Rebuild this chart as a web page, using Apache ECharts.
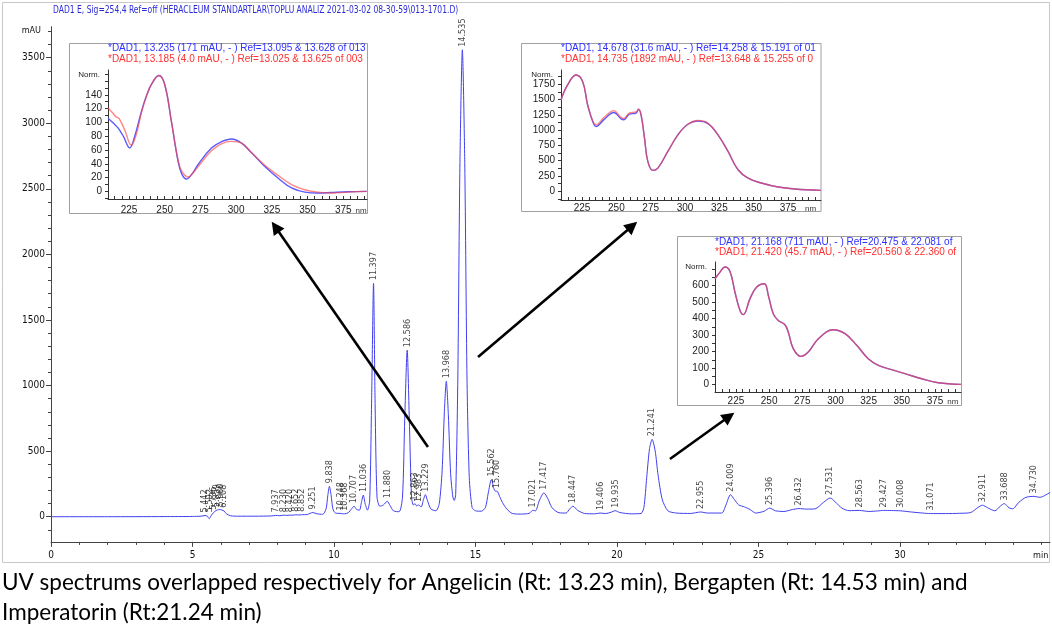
<!DOCTYPE html>
<html><head><meta charset="utf-8">
<script src="https://cdn.jsdelivr.net/npm/echarts@6/dist/echarts.min.js"></script>
<style>html,body{margin:0;padding:0;background:#fff}#c{width:1052px;height:630px}</style>
</head><body><div id="c"></div>
<script>
// ---------- main chromatogram (retention time in min, signal in mAU) ----------
const chromatogram = [
[0,0],[2,0],[4,1],[5,2],[5.3,4],[5.442,9],[5.52,5],[5.592,-15],[5.65,5],[5.736,30],[5.8,42],[5.859,50],[5.92,54],[5.98,55],[6.04,50],[6.108,45],[6.2,22],[6.35,7],[6.6,4],[7.2,4],[7.8,6],[7.937,10],[8.08,8],[8.23,12],[8.33,10],[8.42,12],[8.55,12],[8.652,15],[8.75,13],[8.852,15],[9.05,17],[9.251,32],[9.4,22],[9.6,18],[9.72,60],[9.78,160],[9.838,232],[9.9,160],[9.96,60],[10.05,28],[10.248,25],[10.31,22],[10.368,22],[10.5,30],[10.62,60],[10.707,80],[10.8,55],[10.9,50],[10.97,110],[11.036,165],[11.1,100],[11.18,50],[11.26,120],[11.33,900],[11.397,1780],[11.45,900],[11.52,150],[11.62,80],[11.75,90],[11.88,118],[11.98,85],[12.1,45],[12.3,38],[12.42,150],[12.5,750],[12.586,1270],[12.66,750],[12.74,150],[12.8,90],[12.863,100],[12.92,82],[12.983,90],[13.08,75],[13.16,130],[13.229,168],[13.3,125],[13.42,60],[13.6,45],[13.72,100],[13.82,350],[13.9,800],[13.968,1033],[14.04,780],[14.12,330],[14.2,150],[14.25,124],[14.3,170],[14.375,1050],[14.45,2700],[14.535,3560],[14.62,2700],[14.7,1050],[14.78,300],[14.88,70],[15.0,45],[15.2,42],[15.35,70],[15.45,180],[15.562,283],[15.65,215],[15.7,195],[15.76,195],[15.85,155],[15.95,110],[16.1,60],[16.3,25],[16.6,20],[16.9,26],[17.021,48],[17.12,45],[17.25,120],[17.417,182],[17.55,140],[17.7,70],[17.95,30],[18.2,28],[18.33,60],[18.447,80],[18.6,50],[18.85,25],[19.2,22],[19.406,28],[19.6,24],[19.8,35],[19.935,46],[20.1,32],[20.5,22],[20.85,25],[20.95,70],[21.05,300],[21.15,520],[21.241,590],[21.35,500],[21.45,320],[21.6,130],[21.8,45],[22.1,28],[22.6,25],[22.955,36],[23.2,28],[23.7,28],[23.85,90],[24.009,168],[24.15,130],[24.3,90],[24.5,75],[24.7,55],[24.9,28],[25.2,42],[25.396,66],[25.6,45],[25.9,40],[26.2,55],[26.432,62],[26.7,58],[27.0,60],[27.3,110],[27.531,143],[27.7,115],[27.95,65],[28.2,46],[28.563,48],[28.9,40],[29.2,44],[29.427,48],[29.7,47],[30.008,45],[30.4,36],[30.8,28],[31.071,24],[31.6,24],[32.1,26],[32.5,32],[32.75,70],[32.911,88],[33.1,68],[33.35,45],[33.55,82],[33.688,100],[33.85,68],[33.98,60],[34.2,110],[34.45,148],[34.73,155],[34.95,148],[35.1,160],[35.3,185]
];

// ---------- peak retention-time labels and apex heights ----------
const peakLabels = ["5.442","5.592","5.736","5.859","5.980","6.108","7.937","8.230","8.420","8.652","8.852","9.251","9.838","10.248","10.368","10.707","11.036","11.397","11.880","12.586","12.863","12.983","13.229","13.968","14.535","15.562","15.760","17.021","17.417","18.447","19.406","19.935","21.241","22.955","24.009","25.396","26.432","27.531","28.563","29.427","30.008","31.071","32.911","33.688","34.730"];
const peakHeights = [9,12,30,50,55,45,10,12,12,15,15,32,232,25,22,80,165,1780,118,1270,100,90,168,1033,3560,283,195,48,182,80,28,46,590,36,168,66,62,143,48,48,45,24,88,100,155];

// ---------- axis ticks ----------
const mainXLabels = [0,5,10,15,20,25,30];
const mainXTicks = [0,1,2,3,4,5,6,7,8,9,10,11,12,13,14,15,16,17,18,19,20,21,22,23,24,25,26,27,28,29,30,31,32,33,34,35];
const mainYLabels = [0,500,1000,1500,2000,2500,3000,3500];
const mainYTicks = [-100,0,100,200,300,400,500,600,700,800,900,1000,1100,1200,1300,1400,1500,1600,1700,1800,1900,2000,2100,2200,2300,2400,2500,2600,2700,2800,2900,3000,3100,3200,3300,3400,3500,3600,3700];
const nmLabels = [225,250,275,300,325,350,375];
const nmTicks = [215,220,225,230,235,240,245,250,255,260,265,270,275,280,285,290,295,300,305,310,315,320,325,330,335,340,345,350,355,360,365,370,375,380,385,390,395];
const inset1YLabels = [0,20,40,60,80,100,120,140];
const inset1YTicks = [-10,0,10,20,30,40,50,60,70,80,90,100,110,120,130,140,150,160,170];
const inset2YLabels = [0,250,500,750,1000,1250,1500,1750];
const inset2YTicks = [-125,0,125,250,375,500,625,750,875,1000,1125,1250,1375,1500,1625,1750,1875];
const inset3YLabels = [0,100,200,300,400,500,600];
const inset3YTicks = [0,50,100,150,200,250,300,350,400,450,500,550,600,650,700];

// ---------- UV spectra (nm, normalised absorbance) ----------
const angelicinBlue = [[210.3,106],[214,99],[217.3,92],[221,80],[225.5,63],[229,80],[233.7,116],[237.5,140],[240.7,155],[245.8,168],[250,155],[254.7,101],[259.4,43],[262,25],[265.2,18],[269,25],[273.4,39],[282.7,63],[289.7,72],[296.8,76],[303.8,70],[310.8,56],[320.1,36],[329.5,19],[338.8,5],[348.1,-1],[357.5,-2.4],[366.8,-1.5],[378.5,-0.5],[391.4,0]];
const angelicinRed = [[210.3,121],[213,115],[216,108],[218,106],[222,89],[226.6,67],[230,82],[233.7,114],[237.5,140],[240.7,155],[245.8,168],[250,155],[254.7,101],[259.4,45],[262,29],[266.4,21],[270,27],[273.4,36],[282.7,59],[289.7,69],[296.8,72.5],[303.8,70],[310.8,56],[320.1,38],[329.5,23],[338.8,10],[348.1,2.4],[357.5,-1],[366.8,-2.4],[378.5,-1],[391.4,0]];
const bergaptenBlue = [[209.7,1494],[214.5,1739],[220.6,1902],[225.5,1793],[229.1,1412],[232.8,1140],[235.2,1060],[241.3,1180],[248.1,1290],[253.5,1185],[255.4,1170],[259.5,1262],[264.4,1280],[266.1,1340],[268,1250],[270.5,869],[272.9,489],[276.6,342],[280.2,380],[287.5,652],[294.8,924],[302.1,1097],[309.4,1150],[316.7,1108],[324,924],[331.3,652],[338.6,353],[345.9,217],[355.6,136],[367.8,70],[379.9,38],[398.9,16]];
const bergaptenRed = [[209.7,1494],[214.5,1739],[220.6,1902],[225.5,1793],[229.1,1412],[232.8,1150],[235.2,1090],[241.3,1215],[248.1,1320],[253.5,1205],[255.4,1190],[259.5,1282],[264.4,1300],[266.1,1345],[268,1250],[270.5,869],[272.9,489],[276.6,342],[280.2,380],[287.5,652],[294.8,924],[302.1,1097],[309.4,1157],[316.7,1114],[324,924],[331.3,652],[338.6,353],[345.9,217],[355.6,136],[367.8,70],[379.9,38],[398.9,16]];
const imperatorinBlue = [[209.2,640],[213,680],[216.7,711],[220.5,684],[224.2,560],[228,449],[230.5,423],[235.6,520],[240.6,590],[246.4,610],[249.4,539],[253.1,429],[256.9,388],[261.9,362],[264.4,318],[268.2,218],[274,171],[279.5,197],[287.1,278],[298.4,332],[307.2,308],[316,238],[324.7,157],[332.3,117],[342.3,91],[352.4,67],[365,36],[377.5,12],[394.6,2]];
const imperatorinRed = [[209.2,640],[213,680],[216.7,711],[220.5,684],[224.2,560],[228,449],[230.5,423],[235.6,520],[240.6,590],[246.4,610],[249.4,539],[253.1,429],[256.9,388],[261.9,362],[264.4,318],[268.2,218],[274,171],[279.5,197],[287.1,278],[298.4,332],[307.2,308],[316,238],[324.7,157],[332.3,117],[342.3,91],[352.4,67],[365,36],[377.5,12],[394.6,2]];

// ---------- inset header texts ----------
const inset1Header = ["*DAD1, 13.235 (171 mAU, - ) Ref=13.095 & 13.628 of 013-1701.D", "*DAD1, 13.185 (4.0 mAU, - ) Ref=13.025 & 13.625 of 003-1701.D"];
const inset2Header = ["*DAD1, 14.678 (31.6 mAU, - ) Ref=14.258 & 15.191 of 013-1701.D", "*DAD1, 14.735 (1892 mAU, - ) Ref=13.648 & 15.255 of 013-1701.D"];
const inset3Header = ["*DAD1, 21.168 (711 mAU, - ) Ref=20.475 & 22.081 of 013-1701.D", "*DAD1, 21.420 (45.7 mAU, - ) Ref=20.560 & 22.360 of 013-1701.D"];

// ---------- arrows (from, to) in chromatogram coordinates ----------
const arrows = [
  [[13.32,531],[7.93,2209]],
  [[15.09,1217],[20.54,2216]],
  [[21.87,440],[23.96,764]]
];

const titleText = "DAD1 E, Sig=254,4 Ref=off (HERACLEUM STANDARTLAR\\TOPLU ANALIZ 2021-03-02 08-30-59\\013-1701.D)";
const captionText = "UV spectrums overlapped respectively for Angelicin (Rt: 13.23 min), Bergapten (Rt: 14.53 min) and\nImperatorin (Rt:21.24 min)";

const NARROW = "'Liberation Sans Narrow','DejaVu Sans Condensed','Liberation Sans',sans-serif";
const ARIAL = "'Liberation Sans',Arial,sans-serif";
const BLUE = '#5a5aff', RED = '#ff4545';
const plain = v => String(v);

const chart = echarts.init(document.getElementById('c'));

function insetAxes(gi, xmin, xmax, ymin, ymax, yLabels, yTicks, labelMargin) {
  const x = {
    type:'value', gridIndex:gi, min:xmin, max:xmax,
    axisLine:{show:true, onZero:false, lineStyle:{color:'#333', width:1}},
    axisTick:{show:true, inside:true, length:3, customValues:nmTicks, lineStyle:{color:'#333'}},
    axisLabel:{show:true, customValues:nmLabels, formatter:plain, fontSize:10, fontFamily:ARIAL, color:'#222', margin:labelMargin},
    splitLine:{show:false},
    name:'nm', nameLocation:'end', nameGap:-16,
    nameTextStyle:{fontSize:8, fontFamily:ARIAL, color:'#333', verticalAlign:'top', padding:[labelMargin+2,0,0,0]}
  };
  const y = {
    type:'value', gridIndex:gi, min:ymin, max:ymax,
    axisLine:{show:true, onZero:false, lineStyle:{color:'#333', width:1}},
    axisTick:{show:true, length:3, customValues:yTicks, lineStyle:{color:'#333'}},
    axisLabel:{show:true, customValues:yLabels, formatter:plain, fontSize:10, fontFamily:ARIAL, color:'#222', margin:6},
    splitLine:{show:false},
    name:'Norm.', nameLocation:'end', nameGap:-5,
    nameTextStyle:{fontSize:8, fontFamily:ARIAL, color:'#222', align:'right', verticalAlign:'middle', padding:[0,8,0,0]}
  };
  return [x, y];
}

const a1 = insetAxes(1, 210.3, 391.6, -11, 176, inset1YLabels, inset1YTicks, 6);
const a2 = insetAxes(2, 209.7, 399, -142, 1984, inset2YLabels, inset2YTicks, 3);
const a3 = insetAxes(3, 209.2, 394.6, -44, 741, inset3YLabels, inset3YTicks, 4);

function specSeries(data, color, idx, opacity) {
  return {type:'line', xAxisIndex:idx, yAxisIndex:idx, data:data, smooth:0.4, showSymbol:false, symbol:'none',
          lineStyle:{color:color, width:1.4, opacity:opacity}, z:5, silent:true};
}

function headerTexts(lines, x, y1, y2, right) {
  return lines.map((t,i)=>({
    type:'text', x:x, y:(i===0?y1:y2), z:10,
    style:{text:t, fill:(i===0?'#3030ff':'#ff3030'), font:'10px '+ARIAL, verticalAlign:'middle',
           width:right-x, overflow:'truncate', ellipsis:''}
  }));
}

const option = {
  animation:false,
  backgroundColor:'#fff',
  grid:[
    {left:51, right:2, top:26.7, bottom:88.1},
    {left:108, top:70, width:259, height:129},
    {left:561, top:70, width:260, height:130},
    {left:715, top:262, width:246, height:130}
  ],
  xAxis:[
    {type:'value', gridIndex:0, min:0, max:35.3,
     axisLine:{show:true, onZero:false, lineStyle:{color:'#444', width:1}},
     axisTick:{show:true, length:3, customValues:mainXTicks, lineStyle:{color:'#444'}},
     axisLabel:{show:true, customValues:mainXLabels, formatter:plain, fontSize:10, fontFamily:NARROW, color:'#111', margin:9},
     splitLine:{show:false},
     name:'min', nameLocation:'end', nameGap:-17,
     nameTextStyle:{fontSize:9, fontFamily:NARROW, color:'#111', verticalAlign:'top', padding:[9,0,0,0]}},
    a1[0], a2[0], a3[0],
    {type:'value', gridIndex:0, min:0, max:35.3, position:'bottom',
     axisLine:{show:false, onZero:false}, axisLabel:{show:false}, splitLine:{show:false},
     axisTick:{show:true, length:5, customValues:mainXLabels, lineStyle:{color:'#444'}}}
  ],
  yAxis:[
    {type:'value', gridIndex:0, min:-192, max:3736,
     axisLine:{show:true, onZero:false, lineStyle:{color:'#444', width:1}},
     axisTick:{show:true, length:3, customValues:mainYTicks, lineStyle:{color:'#444'}},
     axisLabel:{show:true, customValues:mainYLabels, formatter:plain, fontSize:10, fontFamily:NARROW, color:'#111', margin:6},
     splitLine:{show:false},
     name:'mAU', nameLocation:'end', nameGap:-4,
     nameTextStyle:{fontSize:9, fontFamily:NARROW, color:'#111', align:'right', verticalAlign:'middle', padding:[0,10,0,0]}},
    a1[1], a2[1], a3[1],
    {type:'value', gridIndex:0, min:-192, max:3736, position:'left',
     axisLine:{show:false, onZero:false}, axisLabel:{show:false}, splitLine:{show:false},
     axisTick:{show:true, length:5, customValues:mainYLabels, lineStyle:{color:'#444'}}}
  ],
  series:[
    {type:'line', xAxisIndex:0, yAxisIndex:0, data:chromatogram, smooth:0.25, showSymbol:false, symbol:'none',
     lineStyle:{color:'#4040f0', width:1}, z:3, silent:true,
     markLine:{silent:true, symbol:['none','triangle'], symbolSize:13, animation:false,
       label:{show:false}, lineStyle:{color:'#000', width:2.6, type:'solid', opacity:1},
       itemStyle:{color:'#000'},
       data: arrows.map(a=>[{coord:a[0]},{coord:a[1]}])}},
    {type:'scatter', xAxisIndex:0, yAxisIndex:0, symbolSize:0, silent:true, z:4,
     data: peakLabels.map((s,i)=>[Number(s), peakHeights[i], s]),
     label:{show:true, formatter:p=>p.value[2], position:'top', distance:3, rotate:90, align:'left', verticalAlign:'middle',
            fontSize:9, fontFamily:NARROW, color:'#111'},
     labelLayout:{hideOverlap:false}},
    specSeries(angelicinBlue, BLUE, 1, 1),
    specSeries(angelicinRed, RED, 1, 0.65),
    specSeries(bergaptenBlue, BLUE, 2, 1),
    specSeries(bergaptenRed, RED, 2, 0.65),
    specSeries(imperatorinBlue, BLUE, 3, 1),
    specSeries(imperatorinRed, RED, 3, 0.65)
  ],
  graphic:[
    {type:'rect', z:-5, shape:{x:2.5, y:2.5, width:1047, height:560}, style:{fill:'#fff', stroke:'#c8c8c8', lineWidth:1}},
    {type:'rect', z:-4, shape:{x:69.5, y:43.5, width:298, height:170}, style:{fill:'#fff', stroke:'#a0a0a0', lineWidth:1}},
    {type:'rect', z:-4, shape:{x:521.5, y:43.5, width:299.5, height:168}, style:{fill:'#fff', stroke:'#a0a0a0', lineWidth:1}},
    {type:'rect', z:-4, shape:{x:677.5, y:236.5, width:284, height:169}, style:{fill:'#fff', stroke:'#a0a0a0', lineWidth:1}},
    {type:'text', x:53, y:10, z:10, scaleX:0.845, style:{text:titleText, fill:'#2a2ad8', font:'10px '+NARROW, verticalAlign:'middle'}},
    ...headerTexts(inset1Header, 108, 48.7, 59.7, 367),
    ...headerTexts(inset2Header, 561, 48.7, 59.7, 820),
    ...headerTexts(inset3Header, 715, 242, 252.7, 961),
    {type:'text', x:2, y:568, z:10, style:{text:captionText, fill:'#000', font:'22.5px Lato', lineHeight:30, verticalAlign:'top'}}
  ]
};
chart.setOption(option);
</script>
</body></html>
